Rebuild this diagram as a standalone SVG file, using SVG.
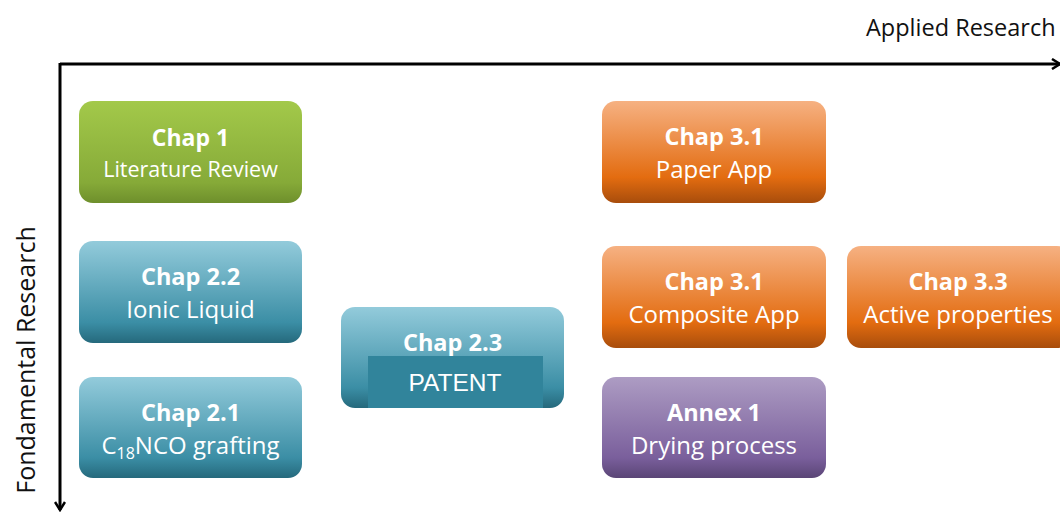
<svg xmlns="http://www.w3.org/2000/svg" width="1060" height="512" viewBox="0 0 1060 512">
<defs>
<linearGradient id="gGreen" x1="0" y1="0" x2="0" y2="1">
<stop offset="0" stop-color="#a3c94a"/><stop offset="0.8" stop-color="#86aa38"/><stop offset="1" stop-color="#6e8f2c"/>
</linearGradient>
<linearGradient id="gBlue" x1="0" y1="0" x2="0" y2="1">
<stop offset="0" stop-color="#93cbdb"/><stop offset="0.8" stop-color="#3b8ea5"/><stop offset="1" stop-color="#25697c"/>
</linearGradient>
<linearGradient id="gOrange" x1="0" y1="0" x2="0" y2="1">
<stop offset="0" stop-color="#f6b182"/><stop offset="0.75" stop-color="#e36c10"/><stop offset="1" stop-color="#a84d0c"/>
</linearGradient>
<linearGradient id="gPurple" x1="0" y1="0" x2="0" y2="1">
<stop offset="0" stop-color="#ad9cc3"/><stop offset="0.8" stop-color="#7a5f9c"/><stop offset="1" stop-color="#5a4576"/>
</linearGradient>
<marker id="arr" viewBox="0 0 12 12" refX="10" refY="6" markerWidth="12" markerHeight="12" markerUnits="userSpaceOnUse" orient="auto">
<path d="M2,1 L10,6 L2,11" fill="none" stroke="#000" stroke-width="2.5"/>
</marker>
</defs>
<style>
.t1{font-family:"Open Sans","Liberation Sans",sans-serif;font-weight:bold;font-size:23.5px;fill:#fff;text-anchor:middle}
.t2{font-family:"Open Sans","Liberation Sans",sans-serif;font-size:24px;fill:#fff;text-anchor:middle}
.ax{font-family:"Open Sans","Liberation Sans",sans-serif;font-size:23.5px;fill:#111}
.axis{stroke:#000;stroke-width:3;fill:none}
</style>
<rect width="1060" height="512" fill="#fff"/>
<g id="connectors">
<line class="axis" x1="60" y1="64" x2="1060" y2="64" marker-end="url(#arr)"/>
<line class="axis" x1="60" y1="63" x2="60" y2="510" marker-end="url(#arr)"/>
</g>
<text class="ax" x="866" y="36">Applied Research</text>
<text class="ax" transform="translate(35,360) rotate(-90)" text-anchor="middle" style="font-size:25px">Fondamental Research</text>
<g id="chap1">
<rect x="79" y="101" width="223" height="102" rx="14" fill="url(#gGreen)"/>
<text class="t1" x="190.500" y="146" style="font-size:23px">Chap 1</text>
<text class="t2" x="190.500" y="177" style="font-size:21.5px">Literature Review</text>
</g>
<g id="chap22">
<rect x="79" y="241" width="223" height="102" rx="14" fill="url(#gBlue)"/>
<text class="t1" x="190.500" y="285">Chap 2.2</text>
<text class="t2" x="190.500" y="318">Ionic Liquid</text>
</g>
<g id="chap21">
<rect x="79" y="377" width="223" height="101" rx="14" fill="url(#gBlue)"/>
<text class="t1" x="190.500" y="421">Chap 2.1</text>
<text class="t2" x="190.500" y="454">C<tspan font-size="16" dy="5">18</tspan><tspan dy="-5">NCO grafting</tspan></text>
</g>
<g id="chap23">
<rect x="341" y="307" width="223" height="101" rx="14" fill="url(#gBlue)"/>
<text class="t1" x="452.500" y="351">Chap 2.3</text>
<rect x="368" y="356" width="175" height="52" fill="#31849b"/>
<text x="455" y="391" font-family="Liberation Sans, Arial, sans-serif" font-size="24.5" fill="#fff" text-anchor="middle">PATENT</text>
</g>
<g id="chap31paper">
<rect x="602" y="101" width="224" height="102" rx="14" fill="url(#gOrange)"/>
<text class="t1" x="714" y="145">Chap 3.1</text>
<text class="t2" x="714" y="178">Paper App</text>
</g>
<g id="chap31comp">
<rect x="602" y="246" width="224" height="102" rx="14" fill="url(#gOrange)"/>
<text class="t1" x="714" y="290">Chap 3.1</text>
<text class="t2" x="714" y="323">Composite App</text>
</g>
<g id="chap33">
<rect x="847" y="246" width="224" height="102" rx="14" fill="url(#gOrange)"/>
<text class="t1" x="958" y="290">Chap 3.3</text>
<text class="t2" x="958" y="323">Active properties</text>
</g>
<g id="annex1">
<rect x="602" y="377" width="224" height="101" rx="14" fill="url(#gPurple)"/>
<text class="t1" x="714" y="421">Annex 1</text>
<text class="t2" x="714" y="454">Drying process</text>
</g>
</svg>
